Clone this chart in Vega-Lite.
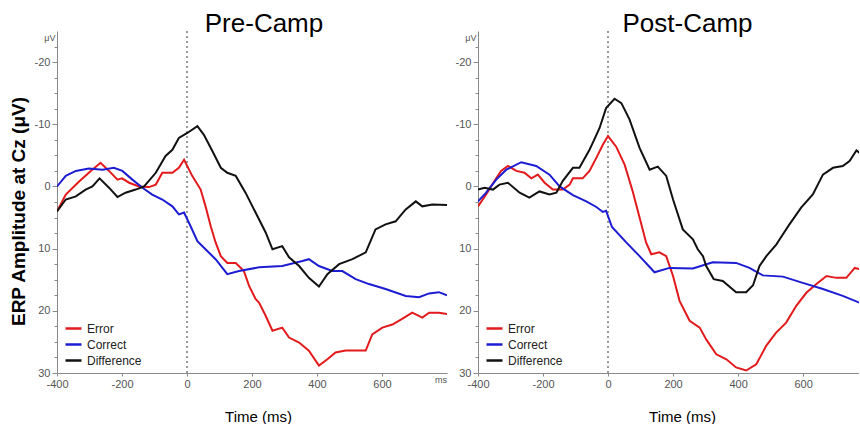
{
  "$schema": "https://vega.github.io/schema/vega-lite/v6.json",
  "background": "white",
  "padding": {"left": 9, "top": 10, "right": 0, "bottom": 0},
  "config": {
    "view": {"stroke": null},
    "font": "Liberation Sans",
    "axis": {
      "domainColor": "#8a8a8a",
      "tickColor": "#8a8a8a",
      "labelColor": "#555555",
      "labelFont": "Liberation Sans",
      "labelFontSize": 11,
      "grid": false,
      "labelOverlap": false,
      "labelFlush": false,
      "titleFont": "Liberation Sans",
      "titleColor": "#000000"
    },
    "title": {"font": "Liberation Sans", "fontSize": 26, "fontWeight": "normal", "color": "#000000"}
  },
  "datasets": {
    "erp": [
      {"panel": "Pre", "series": "Error", "t": -400, "v": 4.0},
      {"panel": "Pre", "series": "Error", "t": -373, "v": 1.3},
      {"panel": "Pre", "series": "Error", "t": -332, "v": -0.8},
      {"panel": "Pre", "series": "Error", "t": -296, "v": -2.5},
      {"panel": "Pre", "series": "Error", "t": -266, "v": -3.8},
      {"panel": "Pre", "series": "Error", "t": -240, "v": -2.5},
      {"panel": "Pre", "series": "Error", "t": -214, "v": -1.1},
      {"panel": "Pre", "series": "Error", "t": -200, "v": -1.3},
      {"panel": "Pre", "series": "Error", "t": -178, "v": -0.6},
      {"panel": "Pre", "series": "Error", "t": -148, "v": 0.0},
      {"panel": "Pre", "series": "Error", "t": -117, "v": 0.1},
      {"panel": "Pre", "series": "Error", "t": -96, "v": -0.3},
      {"panel": "Pre", "series": "Error", "t": -76, "v": -2.2},
      {"panel": "Pre", "series": "Error", "t": -45, "v": -2.2},
      {"panel": "Pre", "series": "Error", "t": -25, "v": -3.0},
      {"panel": "Pre", "series": "Error", "t": -9, "v": -4.3},
      {"panel": "Pre", "series": "Error", "t": 16, "v": -1.7},
      {"panel": "Pre", "series": "Error", "t": 42, "v": 0.5},
      {"panel": "Pre", "series": "Error", "t": 57, "v": 3.2},
      {"panel": "Pre", "series": "Error", "t": 73, "v": 6.4},
      {"panel": "Pre", "series": "Error", "t": 88, "v": 9.0},
      {"panel": "Pre", "series": "Error", "t": 104, "v": 11.2},
      {"panel": "Pre", "series": "Error", "t": 124, "v": 12.3},
      {"panel": "Pre", "series": "Error", "t": 150, "v": 12.3},
      {"panel": "Pre", "series": "Error", "t": 175, "v": 13.6},
      {"panel": "Pre", "series": "Error", "t": 191, "v": 16.0},
      {"panel": "Pre", "series": "Error", "t": 211, "v": 18.1},
      {"panel": "Pre", "series": "Error", "t": 222, "v": 18.7},
      {"panel": "Pre", "series": "Error", "t": 242, "v": 20.8},
      {"panel": "Pre", "series": "Error", "t": 263, "v": 23.2},
      {"panel": "Pre", "series": "Error", "t": 293, "v": 22.7},
      {"panel": "Pre", "series": "Error", "t": 314, "v": 24.3},
      {"panel": "Pre", "series": "Error", "t": 345, "v": 25.1},
      {"panel": "Pre", "series": "Error", "t": 375, "v": 26.4},
      {"panel": "Pre", "series": "Error", "t": 406, "v": 28.8},
      {"panel": "Pre", "series": "Error", "t": 432, "v": 27.8},
      {"panel": "Pre", "series": "Error", "t": 457, "v": 26.7},
      {"panel": "Pre", "series": "Error", "t": 488, "v": 26.4},
      {"panel": "Pre", "series": "Error", "t": 519, "v": 26.4},
      {"panel": "Pre", "series": "Error", "t": 550, "v": 26.4},
      {"panel": "Pre", "series": "Error", "t": 570, "v": 23.8},
      {"panel": "Pre", "series": "Error", "t": 601, "v": 22.7},
      {"panel": "Pre", "series": "Error", "t": 632, "v": 22.2},
      {"panel": "Pre", "series": "Error", "t": 662, "v": 21.3},
      {"panel": "Pre", "series": "Error", "t": 693, "v": 20.3},
      {"panel": "Pre", "series": "Error", "t": 724, "v": 21.1},
      {"panel": "Pre", "series": "Error", "t": 745, "v": 20.3},
      {"panel": "Pre", "series": "Error", "t": 775, "v": 20.3},
      {"panel": "Pre", "series": "Error", "t": 800, "v": 20.5},

      {"panel": "Pre", "series": "Correct", "t": -400, "v": 0.0},
      {"panel": "Pre", "series": "Correct", "t": -373, "v": -1.7},
      {"panel": "Pre", "series": "Correct", "t": -342, "v": -2.5},
      {"panel": "Pre", "series": "Correct", "t": -302, "v": -2.9},
      {"panel": "Pre", "series": "Correct", "t": -260, "v": -2.7},
      {"panel": "Pre", "series": "Correct", "t": -225, "v": -3.0},
      {"panel": "Pre", "series": "Correct", "t": -199, "v": -2.5},
      {"panel": "Pre", "series": "Correct", "t": -168, "v": -1.1},
      {"panel": "Pre", "series": "Correct", "t": -137, "v": 0.2},
      {"panel": "Pre", "series": "Correct", "t": -107, "v": 1.3},
      {"panel": "Pre", "series": "Correct", "t": -76, "v": 2.1},
      {"panel": "Pre", "series": "Correct", "t": -45, "v": 3.2},
      {"panel": "Pre", "series": "Correct", "t": -25, "v": 4.5},
      {"panel": "Pre", "series": "Correct", "t": -9, "v": 4.2},
      {"panel": "Pre", "series": "Correct", "t": 11, "v": 6.4},
      {"panel": "Pre", "series": "Correct", "t": 32, "v": 8.8},
      {"panel": "Pre", "series": "Correct", "t": 57, "v": 10.1},
      {"panel": "Pre", "series": "Correct", "t": 88, "v": 11.7},
      {"panel": "Pre", "series": "Correct", "t": 124, "v": 14.1},
      {"panel": "Pre", "series": "Correct", "t": 160, "v": 13.6},
      {"panel": "Pre", "series": "Correct", "t": 222, "v": 13.0},
      {"panel": "Pre", "series": "Correct", "t": 293, "v": 12.8},
      {"panel": "Pre", "series": "Correct", "t": 355, "v": 12.0},
      {"panel": "Pre", "series": "Correct", "t": 375, "v": 11.7},
      {"panel": "Pre", "series": "Correct", "t": 406, "v": 12.8},
      {"panel": "Pre", "series": "Correct", "t": 447, "v": 13.6},
      {"panel": "Pre", "series": "Correct", "t": 478, "v": 13.6},
      {"panel": "Pre", "series": "Correct", "t": 519, "v": 14.9},
      {"panel": "Pre", "series": "Correct", "t": 560, "v": 15.7},
      {"panel": "Pre", "series": "Correct", "t": 611, "v": 16.5},
      {"panel": "Pre", "series": "Correct", "t": 673, "v": 17.6},
      {"panel": "Pre", "series": "Correct", "t": 714, "v": 17.8},
      {"panel": "Pre", "series": "Correct", "t": 745, "v": 17.2},
      {"panel": "Pre", "series": "Correct", "t": 775, "v": 17.0},
      {"panel": "Pre", "series": "Correct", "t": 800, "v": 17.5},

      {"panel": "Pre", "series": "Difference", "t": -400, "v": 4.0},
      {"panel": "Pre", "series": "Difference", "t": -373, "v": 2.1},
      {"panel": "Pre", "series": "Difference", "t": -342, "v": 1.6},
      {"panel": "Pre", "series": "Difference", "t": -312, "v": 0.5},
      {"panel": "Pre", "series": "Difference", "t": -291, "v": 0.0},
      {"panel": "Pre", "series": "Difference", "t": -269, "v": -1.3},
      {"panel": "Pre", "series": "Difference", "t": -240, "v": 0.2},
      {"panel": "Pre", "series": "Difference", "t": -214, "v": 1.7},
      {"panel": "Pre", "series": "Difference", "t": -189, "v": 1.0},
      {"panel": "Pre", "series": "Difference", "t": -158, "v": 0.5},
      {"panel": "Pre", "series": "Difference", "t": -132, "v": 0.0},
      {"panel": "Pre", "series": "Difference", "t": -96, "v": -2.2},
      {"panel": "Pre", "series": "Difference", "t": -66, "v": -4.9},
      {"panel": "Pre", "series": "Difference", "t": -45, "v": -5.9},
      {"panel": "Pre", "series": "Difference", "t": -25, "v": -7.8},
      {"panel": "Pre", "series": "Difference", "t": 1, "v": -8.6},
      {"panel": "Pre", "series": "Difference", "t": 32, "v": -9.7},
      {"panel": "Pre", "series": "Difference", "t": 52, "v": -8.3},
      {"panel": "Pre", "series": "Difference", "t": 78, "v": -5.7},
      {"panel": "Pre", "series": "Difference", "t": 104, "v": -3.0},
      {"panel": "Pre", "series": "Difference", "t": 124, "v": -2.2},
      {"panel": "Pre", "series": "Difference", "t": 150, "v": -1.7},
      {"panel": "Pre", "series": "Difference", "t": 180, "v": 1.0},
      {"panel": "Pre", "series": "Difference", "t": 211, "v": 4.2},
      {"panel": "Pre", "series": "Difference", "t": 242, "v": 7.4},
      {"panel": "Pre", "series": "Difference", "t": 263, "v": 10.1},
      {"panel": "Pre", "series": "Difference", "t": 293, "v": 9.6},
      {"panel": "Pre", "series": "Difference", "t": 314, "v": 11.4},
      {"panel": "Pre", "series": "Difference", "t": 345, "v": 12.8},
      {"panel": "Pre", "series": "Difference", "t": 375, "v": 14.7},
      {"panel": "Pre", "series": "Difference", "t": 406, "v": 16.1},
      {"panel": "Pre", "series": "Difference", "t": 432, "v": 14.1},
      {"panel": "Pre", "series": "Difference", "t": 468, "v": 12.5},
      {"panel": "Pre", "series": "Difference", "t": 509, "v": 11.7},
      {"panel": "Pre", "series": "Difference", "t": 550, "v": 10.6},
      {"panel": "Pre", "series": "Difference", "t": 580, "v": 6.9},
      {"panel": "Pre", "series": "Difference", "t": 611, "v": 6.1},
      {"panel": "Pre", "series": "Difference", "t": 642, "v": 5.6},
      {"panel": "Pre", "series": "Difference", "t": 673, "v": 3.7},
      {"panel": "Pre", "series": "Difference", "t": 704, "v": 2.4},
      {"panel": "Pre", "series": "Difference", "t": 724, "v": 3.2},
      {"panel": "Pre", "series": "Difference", "t": 755, "v": 2.9},
      {"panel": "Pre", "series": "Difference", "t": 800, "v": 3.0},

      {"panel": "Post", "series": "Error", "t": -400, "v": 3.2},
      {"panel": "Post", "series": "Error", "t": -375, "v": 1.3},
      {"panel": "Post", "series": "Error", "t": -349, "v": -0.9},
      {"panel": "Post", "series": "Error", "t": -329, "v": -2.5},
      {"panel": "Post", "series": "Error", "t": -308, "v": -3.3},
      {"panel": "Post", "series": "Error", "t": -282, "v": -2.5},
      {"panel": "Post", "series": "Error", "t": -257, "v": -2.2},
      {"panel": "Post", "series": "Error", "t": -236, "v": -1.3},
      {"panel": "Post", "series": "Error", "t": -216, "v": -1.9},
      {"panel": "Post", "series": "Error", "t": -195, "v": -0.6},
      {"panel": "Post", "series": "Error", "t": -170, "v": 0.5},
      {"panel": "Post", "series": "Error", "t": -139, "v": 0.5},
      {"panel": "Post", "series": "Error", "t": -118, "v": -0.3},
      {"panel": "Post", "series": "Error", "t": -108, "v": -1.3},
      {"panel": "Post", "series": "Error", "t": -78, "v": -1.3},
      {"panel": "Post", "series": "Error", "t": -57, "v": -2.5},
      {"panel": "Post", "series": "Error", "t": -36, "v": -4.6},
      {"panel": "Post", "series": "Error", "t": -16, "v": -6.7},
      {"panel": "Post", "series": "Error", "t": 0, "v": -8.1},
      {"panel": "Post", "series": "Error", "t": 25, "v": -6.4},
      {"panel": "Post", "series": "Error", "t": 51, "v": -3.5},
      {"panel": "Post", "series": "Error", "t": 76, "v": 0.8},
      {"panel": "Post", "series": "Error", "t": 97, "v": 5.0},
      {"panel": "Post", "series": "Error", "t": 117, "v": 9.0},
      {"panel": "Post", "series": "Error", "t": 133, "v": 10.9},
      {"panel": "Post", "series": "Error", "t": 158, "v": 10.6},
      {"panel": "Post", "series": "Error", "t": 179, "v": 11.2},
      {"panel": "Post", "series": "Error", "t": 200, "v": 14.4},
      {"panel": "Post", "series": "Error", "t": 220, "v": 18.4},
      {"panel": "Post", "series": "Error", "t": 251, "v": 21.6},
      {"panel": "Post", "series": "Error", "t": 282, "v": 22.7},
      {"panel": "Post", "series": "Error", "t": 302, "v": 24.6},
      {"panel": "Post", "series": "Error", "t": 333, "v": 27.0},
      {"panel": "Post", "series": "Error", "t": 364, "v": 27.8},
      {"panel": "Post", "series": "Error", "t": 394, "v": 29.1},
      {"panel": "Post", "series": "Error", "t": 425, "v": 29.6},
      {"panel": "Post", "series": "Error", "t": 456, "v": 28.6},
      {"panel": "Post", "series": "Error", "t": 487, "v": 25.6},
      {"panel": "Post", "series": "Error", "t": 517, "v": 23.5},
      {"panel": "Post", "series": "Error", "t": 548, "v": 21.9},
      {"panel": "Post", "series": "Error", "t": 579, "v": 19.2},
      {"panel": "Post", "series": "Error", "t": 610, "v": 17.1},
      {"panel": "Post", "series": "Error", "t": 641, "v": 15.7},
      {"panel": "Post", "series": "Error", "t": 672, "v": 14.4},
      {"panel": "Post", "series": "Error", "t": 702, "v": 14.7},
      {"panel": "Post", "series": "Error", "t": 733, "v": 14.7},
      {"panel": "Post", "series": "Error", "t": 759, "v": 13.1},
      {"panel": "Post", "series": "Error", "t": 775, "v": 13.3},

      {"panel": "Post", "series": "Correct", "t": -400, "v": 2.4},
      {"panel": "Post", "series": "Correct", "t": -375, "v": 1.0},
      {"panel": "Post", "series": "Correct", "t": -344, "v": -1.1},
      {"panel": "Post", "series": "Correct", "t": -313, "v": -2.7},
      {"panel": "Post", "series": "Correct", "t": -267, "v": -3.9},
      {"panel": "Post", "series": "Correct", "t": -221, "v": -3.3},
      {"panel": "Post", "series": "Correct", "t": -180, "v": -1.9},
      {"panel": "Post", "series": "Correct", "t": -149, "v": 0.0},
      {"panel": "Post", "series": "Correct", "t": -108, "v": 1.4},
      {"panel": "Post", "series": "Correct", "t": -67, "v": 2.4},
      {"panel": "Post", "series": "Correct", "t": -36, "v": 3.3},
      {"panel": "Post", "series": "Correct", "t": -16, "v": 4.1},
      {"panel": "Post", "series": "Correct", "t": -6, "v": 3.9},
      {"panel": "Post", "series": "Correct", "t": 12, "v": 6.5},
      {"panel": "Post", "series": "Correct", "t": 56, "v": 9.0},
      {"panel": "Post", "series": "Correct", "t": 97, "v": 11.2},
      {"panel": "Post", "series": "Correct", "t": 143, "v": 13.8},
      {"panel": "Post", "series": "Correct", "t": 189, "v": 13.1},
      {"panel": "Post", "series": "Correct", "t": 261, "v": 13.2},
      {"panel": "Post", "series": "Correct", "t": 322, "v": 12.2},
      {"panel": "Post", "series": "Correct", "t": 394, "v": 12.3},
      {"panel": "Post", "series": "Correct", "t": 435, "v": 13.1},
      {"panel": "Post", "series": "Correct", "t": 476, "v": 14.3},
      {"panel": "Post", "series": "Correct", "t": 538, "v": 14.5},
      {"panel": "Post", "series": "Correct", "t": 599, "v": 15.5},
      {"panel": "Post", "series": "Correct", "t": 661, "v": 16.5},
      {"panel": "Post", "series": "Correct", "t": 722, "v": 17.6},
      {"panel": "Post", "series": "Correct", "t": 774, "v": 18.7},

      {"panel": "Post", "series": "Difference", "t": -400, "v": 0.5},
      {"panel": "Post", "series": "Difference", "t": -380, "v": 0.2},
      {"panel": "Post", "series": "Difference", "t": -354, "v": 0.5},
      {"panel": "Post", "series": "Difference", "t": -334, "v": -0.3},
      {"panel": "Post", "series": "Difference", "t": -308, "v": -0.6},
      {"panel": "Post", "series": "Difference", "t": -272, "v": 1.0},
      {"panel": "Post", "series": "Difference", "t": -242, "v": 1.8},
      {"panel": "Post", "series": "Difference", "t": -211, "v": 0.8},
      {"panel": "Post", "series": "Difference", "t": -180, "v": 1.3},
      {"panel": "Post", "series": "Difference", "t": -159, "v": 1.0},
      {"panel": "Post", "series": "Difference", "t": -139, "v": -0.9},
      {"panel": "Post", "series": "Difference", "t": -108, "v": -3.0},
      {"panel": "Post", "series": "Difference", "t": -88, "v": -3.0},
      {"panel": "Post", "series": "Difference", "t": -57, "v": -5.9},
      {"panel": "Post", "series": "Difference", "t": -47, "v": -7.0},
      {"panel": "Post", "series": "Difference", "t": -26, "v": -9.4},
      {"panel": "Post", "series": "Difference", "t": -6, "v": -12.6},
      {"panel": "Post", "series": "Difference", "t": 20, "v": -14.1},
      {"panel": "Post", "series": "Difference", "t": 41, "v": -13.4},
      {"panel": "Post", "series": "Difference", "t": 66, "v": -10.8},
      {"panel": "Post", "series": "Difference", "t": 97, "v": -6.2},
      {"panel": "Post", "series": "Difference", "t": 128, "v": -2.7},
      {"panel": "Post", "series": "Difference", "t": 153, "v": -3.2},
      {"panel": "Post", "series": "Difference", "t": 179, "v": -1.7},
      {"panel": "Post", "series": "Difference", "t": 200, "v": 2.1},
      {"panel": "Post", "series": "Difference", "t": 230, "v": 6.9},
      {"panel": "Post", "series": "Difference", "t": 261, "v": 8.5},
      {"panel": "Post", "series": "Difference", "t": 276, "v": 10.1},
      {"panel": "Post", "series": "Difference", "t": 292, "v": 11.2},
      {"panel": "Post", "series": "Difference", "t": 302, "v": 12.8},
      {"panel": "Post", "series": "Difference", "t": 325, "v": 14.9},
      {"panel": "Post", "series": "Difference", "t": 353, "v": 15.2},
      {"panel": "Post", "series": "Difference", "t": 394, "v": 17.0},
      {"panel": "Post", "series": "Difference", "t": 425, "v": 17.0},
      {"panel": "Post", "series": "Difference", "t": 446, "v": 15.9},
      {"panel": "Post", "series": "Difference", "t": 466, "v": 12.8},
      {"panel": "Post", "series": "Difference", "t": 487, "v": 11.2},
      {"panel": "Post", "series": "Difference", "t": 518, "v": 9.3},
      {"panel": "Post", "series": "Difference", "t": 528, "v": 8.5},
      {"panel": "Post", "series": "Difference", "t": 558, "v": 6.1},
      {"panel": "Post", "series": "Difference", "t": 594, "v": 3.4},
      {"panel": "Post", "series": "Difference", "t": 630, "v": 1.3},
      {"panel": "Post", "series": "Difference", "t": 661, "v": -1.9},
      {"panel": "Post", "series": "Difference", "t": 692, "v": -3.0},
      {"panel": "Post", "series": "Difference", "t": 722, "v": -3.3},
      {"panel": "Post", "series": "Difference", "t": 743, "v": -4.1},
      {"panel": "Post", "series": "Difference", "t": 764, "v": -5.8},
      {"panel": "Post", "series": "Difference", "t": 774, "v": -5.4}
    ]
  },
  "spacing": 31,
  "bounds": "flush",
  "resolve": {"scale": {"color": "independent"}, "legend": {"color": "independent"}},
  "hconcat": [
    {
      "width": 390,
      "height": 342,
      "title": {"text": "Pre-Camp", "baseline": "alphabetic", "offset": -27, "dx": 12},
      "data": {"name": "erp"},
      "transform": [{"filter": "datum.panel == 'Pre'"}],
      "layer": [
        {
          "mark": {"type": "rule", "strokeDash": [2, 3], "color": "#9a9a9a", "strokeWidth": 1},
          "encoding": {"x": {"datum": 0, "type": "quantitative"}}
        },
        {
          "mark": {"type": "line", "strokeWidth": 2, "clip": true},
          "encoding": {
            "x": {
              "field": "t", "type": "quantitative",
              "scale": {"domain": [-400, 800], "nice": false, "zero": false},
              "axis": {
                "title": "Time (ms)", "titleFontSize": 15, "titleFontWeight": "normal", "titlePadding": 20, "titleX": 201,
                "values": [-400, -300, -200, -100, 0, 100, 200, 300, 400, 500, 600, 700, 780],
                "labelExpr": "datum.value == 780 ? 'ms' : (datum.value % 200 == 0 ? '' + datum.value : '')",
                "labelFontSize": {"condition": {"test": "datum.value == 780", "value": 9}, "value": 11},
                "tickSize": {"condition": {"test": "datum.value == 780", "value": 0}, "value": 3}
              }
            },
            "y": {
              "field": "v", "type": "quantitative",
              "scale": {"domain": [-25, 30], "reverse": true, "nice": false, "zero": false},
              "axis": {
                "title": "ERP Amplitude at Cz (μV)", "titleFontSize": 19, "titleFontWeight": "bold", "titlePadding": 6, "titleY": 180,
                "values": [-24, -22.5, -20, -17.5, -15, -12.5, -10, -7.5, -5, -2.5, 0, 2.5, 5, 7.5, 10, 12.5, 15, 17.5, 20, 22.5, 25, 27.5, 30],
                "labelExpr": "datum.value == -24 ? 'μV' : (datum.value % 10 == 0 ? '' + datum.value : '')",
                "labelFontSize": {"condition": {"test": "datum.value == -24", "value": 9}, "value": 11},
                "tickSize": {"condition": [{"test": "datum.value == -24", "value": 0}, {"test": "datum.value % 10 == 0", "value": 5}], "value": 3}
              }
            },
            "color": {
              "field": "series", "type": "nominal",
              "scale": {"domain": ["Error", "Correct", "Difference"], "range": ["#e31a1c", "#1c1cd2", "#111111"]},
              "legend": {
                "title": null, "orient": "none", "legendX": 7, "legendY": 288,
                "symbolType": "stroke", "symbolSize": 256, "symbolStrokeWidth": 2.5,
                "labelFontSize": 12, "labelColor": "#222222", "labelFont": "Liberation Sans", "rowPadding": 0
              }
            }
          }
        }
      ]
    },
    {
      "width": 381,
      "height": 342,
      "title": {"text": "Post-Camp", "baseline": "alphabetic", "offset": -27, "dx": 19},
      "data": {"name": "erp"},
      "transform": [{"filter": "datum.panel == 'Post'"}],
      "layer": [
        {
          "mark": {"type": "rule", "strokeDash": [2, 3], "color": "#9a9a9a", "strokeWidth": 1},
          "encoding": {"x": {"datum": 0, "type": "quantitative"}}
        },
        {
          "mark": {"type": "line", "strokeWidth": 2, "clip": true},
          "encoding": {
            "x": {
              "field": "t", "type": "quantitative",
              "scale": {"domain": [-400, 772], "nice": false, "zero": false},
              "axis": {
                "title": "Time (ms)", "titleFontSize": 15, "titleFontWeight": "normal", "titlePadding": 20, "titleX": 204,
                "values": [-400, -300, -200, -100, 0, 100, 200, 300, 400, 500, 600, 700],
                "labelExpr": "datum.value % 200 == 0 ? '' + datum.value : ''",
                "tickSize": 3
              }
            },
            "y": {
              "field": "v", "type": "quantitative",
              "scale": {"domain": [-25, 30], "reverse": true, "nice": false, "zero": false},
              "axis": {
                "title": null,
                "values": [-24, -22.5, -20, -17.5, -15, -12.5, -10, -7.5, -5, -2.5, 0, 2.5, 5, 7.5, 10, 12.5, 15, 17.5, 20, 22.5, 25, 27.5, 30],
                "labelExpr": "datum.value == -24 ? 'μV' : (datum.value % 10 == 0 ? '' + datum.value : '')",
                "labelFontSize": {"condition": {"test": "datum.value == -24", "value": 9}, "value": 11},
                "tickSize": {"condition": [{"test": "datum.value == -24", "value": 0}, {"test": "datum.value % 10 == 0", "value": 5}], "value": 3}
              }
            },
            "color": {
              "field": "series", "type": "nominal",
              "scale": {"domain": ["Error", "Correct", "Difference"], "range": ["#e31a1c", "#1c1cd2", "#111111"]},
              "legend": {
                "title": null, "orient": "none", "legendX": 7, "legendY": 288,
                "symbolType": "stroke", "symbolSize": 256, "symbolStrokeWidth": 2.5,
                "labelFontSize": 12, "labelColor": "#222222", "labelFont": "Liberation Sans", "rowPadding": 0
              }
            }
          }
        }
      ]
    }
  ]
}
